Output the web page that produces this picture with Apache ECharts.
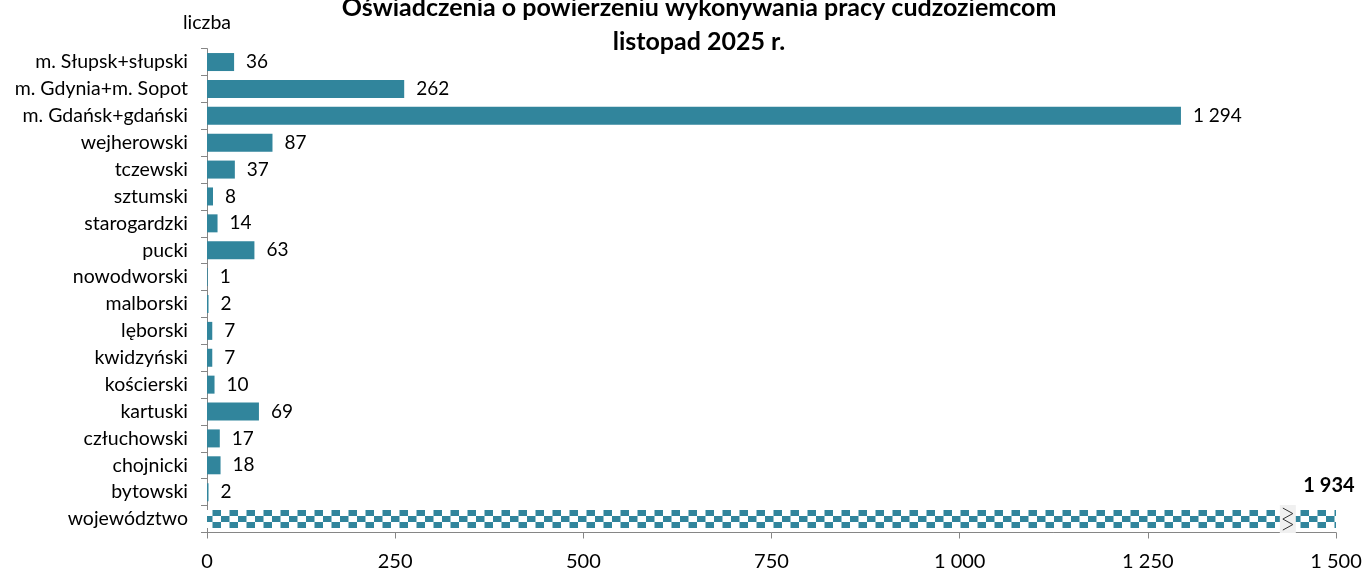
<!DOCTYPE html>
<html><head><meta charset="utf-8">
<script src="https://cdn.jsdelivr.net/npm/echarts@6/dist/echarts.min.js"></script>
<style>html,body{margin:0;padding:0;background:#fff}#c{width:1365px;height:574px}</style>
</head><body><div id="c"></div>
<script>
const categories = ['m. Słupsk+słupski','m. Gdynia+m. Sopot','m. Gdańsk+gdański','wejherowski','tczewski','sztumski','starogardzki','pucki','nowodworski','malborski','lęborski','kwidzyński','kościerski','kartuski','człuchowski','chojnicki','bytowski','województwo'];
const values = [36, 262, 1294, 87, 37, 8, 14, 63, 1, 2, 7, 7, 10, 69, 17, 18, 2, 1934];
const xTicks = [0, 250, 500, 750, 1000, 1250, 1500];
const axisMax = 1500;
const breakAt = 1436;
const FONT = 'Lato';
const COLOR = '#31859C';

function fmt(v){ return String(v).replace(/\B(?=(\d{3})+(?!\d))/g, ' '); }

// checkerboard pattern
const pc = document.createElement('canvas');
pc.width = 17; pc.height = 12;
const g = pc.getContext('2d');
g.fillStyle = '#fff'; g.fillRect(0,0,17,12);
g.fillStyle = COLOR;
g.fillRect(0,0,8.5,6); g.fillRect(8.5,6,8.5,6);

const chart = echarts.init(document.getElementById('c'), null, {renderer:'canvas'});
const last = categories.length - 1;
const data = values.map((v, i) => {
  if (i === last) {
    return {
      value: Math.min(v, axisMax),
      itemStyle: { color: { image: pc, repeat: 'repeat' } },
      label: { show: true, position: ['100%', '0%'], align: 'center', verticalAlign: 'bottom',
               offset: [-7, -15], fontWeight: 'bold', fontSize: 20, formatter: () => fmt(v) }
    };
  }
  return { value: v };
});

chart.setOption({
  animation: false,
  title: {
    text: 'Oświadczenia o powierzeniu wykonywania pracy cudzoziemcom\nlistopad 2025 r.',
    left: 694, top: -14, textAlign: 'center',
    textStyle: { fontFamily: FONT, fontSize: 25, fontWeight: 'bold', color: '#000', lineHeight: 34 }
  },
  grid: { left: 207, right: 29, top: 48.6, bottom: 41.5, containLabel: false },
  xAxis: {
    type: 'value', min: 0, max: axisMax, interval: 250,
    axisLine: { show: true, lineStyle: { color: '#868686', width: 1 } },
    axisTick: { show: true, length: 6, lineStyle: { color: '#868686' } },
    splitLine: { show: false },
    axisLabel: { fontFamily: FONT, fontSize: 20, color: '#000', margin: 19,
      formatter: v => xTicks.includes(v) ? fmt(v) : '' }
  },
  yAxis: {
    type: 'category', data: categories, inverse: true,
    name: 'liczba', nameLocation: 'start', nameGap: 16,
    nameTextStyle: { fontFamily: FONT, fontSize: 19.5, color: '#000', align: 'center', verticalAlign: 'bottom' },
    axisLine: { show: true, lineStyle: { color: '#868686', width: 1 } },
    axisTick: { show: true, length: 6, inside: false, alignWithLabel: false, lineStyle: { color: '#868686' } },
    axisLabel: { fontFamily: FONT, fontSize: 19.5, color: '#000', margin: 19 }
  },
  series: [{
    type: 'bar', data: data, barWidth: 18, itemStyle: { color: COLOR },
    label: { show: true, position: 'right', distance: 12, fontFamily: FONT, fontSize: 19, color: '#000',
      formatter: p => fmt(p.value) }
  }]
});

// axis break marker on the truncated bar
const p = chart.convertToPixel({ xAxisIndex: 0, yAxisIndex: 0 }, [breakAt, categories[last]]);
const x = p[0], y = p[1];
chart.setOption({
  graphic: [
    { type: 'rect', shape: { x: x - 8, y: y - 14, width: 16, height: 28 }, style: { fill: '#f0f0f0' }, z: 100 },
    { type: 'polyline', shape: { points: [[x-5, y-11],[x+5, y-5.5],[x-5, y],[x+5, y+5.5],[x-5, y+11]] },
      style: { stroke: '#333', lineWidth: 1, fill: null }, z: 101 }
  ]
});
</script></body></html>
